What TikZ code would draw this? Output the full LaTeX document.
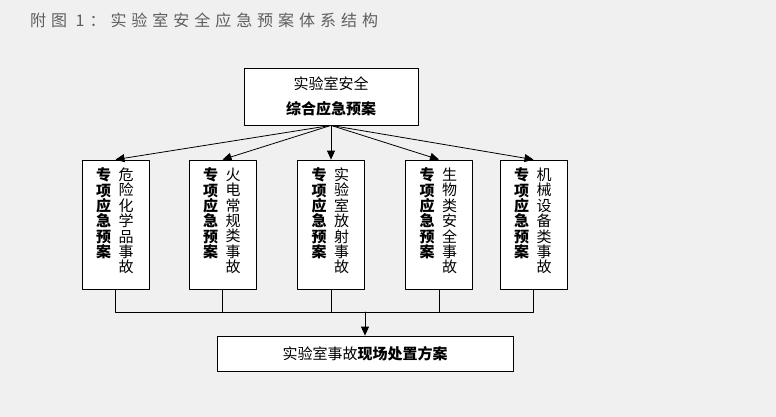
\documentclass[tikz,border=0pt]{standalone}
\usepackage{fontspec}
\usetikzlibrary{arrows.meta,positioning}
\newfontfamily\cjk{Noto Sans CJK SC}
\newfontfamily\titlecjk[LetterSpace=31]{Noto Sans CJK SC}
\definecolor{canvas}{HTML}{F0F0F0}
\definecolor{titlegray}{HTML}{5E5E5E}
\tikzset{
  planbox/.style={draw=black,fill=white,line width=0.8pt,inner sep=0pt,align=center},
  subplan/.style={planbox,minimum width=67pt,minimum height=129pt},
  vcol/.style={anchor=north,align=center,inner sep=0pt,font=\cjk\fontsize{15}{15.4}\selectfont},
  link/.style={line width=0.8pt,-{Triangle[length=9pt,width=8pt]}},
  bus/.style={line width=0.8pt}
}

\begin{document}
\begin{tikzpicture}[x=1pt,y=-1pt,line cap=round,line join=round]
  \fill[canvas] (0,0) rectangle (776,417);
  \useasboundingbox (0,0) rectangle (776,417);
  \node[anchor=west,inner sep=0pt,text=titlegray,font=\titlecjk\fontsize{16}{16}\selectfont] (title) at (30,20) {附图 1：实验室安全应急预案体系结构};

  % overall plan
  \node[planbox,minimum width=174pt,minimum height=57pt,font=\cjk\fontsize{15}{25}\selectfont] (top) at (331,96.5)
    {实验室安全\\\bfseries 综合应急预案};

  % five special plans
  \foreach \i/\x/\kind in {1/115.5/{危\\险\\化\\学\\品\\事\\故},
                           2/222.5/{火\\电\\常\\规\\类\\事\\故},
                           3/331/{实\\验\\室\\放\\射\\事\\故},
                           4/439/{生\\物\\类\\安\\全\\事\\故},
                           5/533.5/{机\\械\\设\\备\\类\\事\\故}}{
    \node[subplan] (s\i) at (\x,224.5) {};
    \node[vcol,font=\cjk\bfseries\fontsize{15}{15.4}\selectfont] (s\i l) at ([xshift=-12pt,yshift=-8pt]s\i.north) {专\\项\\应\\急\\预\\案};
    \node[vcol] (s\i r) at ([xshift=10.5pt,yshift=-8pt]s\i.north) {\kind};
    \draw[link] (top.south) -- (s\i.north);
  }

  % on-site plan
  \node[planbox,minimum width=296pt,minimum height=35pt,font=\cjk\fontsize{15}{15}\selectfont] (bot) at (365,353.5)
    {实验室事故\textbf{现场处置方案}};

  \coordinate (join) at (365,312);
  \foreach \i in {1,...,5}
    \draw[bus] (s\i.south) -- (s\i.south |- join);
  \draw[bus] (s1.south |- join) -- (s5.south |- join);
  \draw[link] (join) -- (bot.north);
\end{tikzpicture}
\end{document}
